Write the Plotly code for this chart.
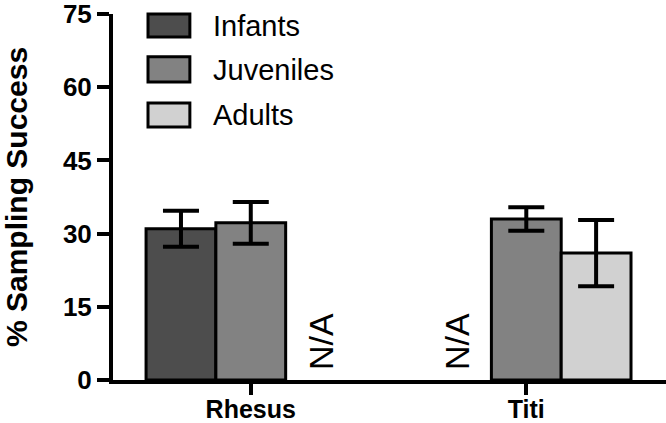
import plotly.graph_objects as go

categories = ["Rhesus", "Titi"]
series_names = ["Infants", "Juveniles", "Adults"]
infants = [31.0, None]
infants_err = [3.7, None]
juveniles = [32.2, 33.0]
juveniles_err = [4.3, 2.4]
adults = [None, 26.0]
adults_err = [None, 6.8]
y_ticks = [0, 15, 30, 45, 60, 75]

values = [infants, juveniles, adults]
errors = [infants_err, juveniles_err, adults_err]
colors = ["#4d4d4d", "#828282", "#d1d1d1"]

FONT = "Liberation Sans, Arial, sans-serif"

fig = go.Figure()
for name, v, e, c in zip(series_names, values, errors, colors):
    fig.add_trace(go.Bar(
        x=list(range(len(categories))), y=v, name=name,
        marker=dict(color=c, line=dict(color="black", width=3)),
        error_y=dict(type="data", array=e, visible=True, color="black",
                     thickness=4, width=18),
        showlegend=False,
    ))

# N/A labels for missing values
ngroups = len(series_names)
bargap = 0.24
slot = (1 - bargap) / ngroups
for si, v in enumerate(values):
    for ci, val in enumerate(v):
        if val is None:
            fig.add_annotation(
                x=ci + (si - (ngroups - 1) / 2) * slot, y=0, xref="x", yref="y",
                text="N/A", textangle=-90, showarrow=False,
                yanchor="bottom", xanchor="center", yshift=8,
                font=dict(family=FONT, size=34, color="black"))

# custom legend
box_y = [(0.937, 1.0), (0.814, 0.883), (0.691, 0.757)]
text_y = [0.967, 0.847, 0.724]
for name, c, (y0, y1), ty in zip(series_names, colors, box_y, text_y):
    fig.add_shape(type="rect", xref="x domain", yref="y domain",
                  x0=0.0633, x1=0.139, y0=y0, y1=y1,
                  fillcolor=c, line=dict(color="black", width=3))
    fig.add_annotation(xref="x domain", yref="y domain", x=0.177, y=ty,
                       text=name, showarrow=False, xanchor="left", yanchor="middle",
                       font=dict(family=FONT, size=29, color="black"))

fig.update_layout(
    width=666, height=423,
    margin=dict(l=113, r=0, t=14, b=43),
    paper_bgcolor="white", plot_bgcolor="white",
    barmode="group", bargap=bargap, bargroupgap=0,
    font=dict(family=FONT, color="black"),
)
fig.update_xaxes(
    tickmode="array", tickvals=list(range(len(categories))), ticktext=categories,
    range=[-0.5, 1.507], showline=True, linecolor="black", linewidth=4,
    ticks="outside", ticklen=11, tickwidth=4, tickcolor="black",
    showgrid=False, zeroline=False, automargin=False,
    ticklabelstandoff=-7,
    tickfont=dict(family=FONT, size=25, color="black", weight="bold"),
)
fig.update_yaxes(
    range=[0, 75], tickmode="array", tickvals=y_ticks,
    showline=True, linecolor="black", linewidth=4,
    ticks="outside", ticklen=12, tickwidth=4, tickcolor="black",
    showgrid=False, zeroline=False, automargin=False,
    ticklabeloverflow="allow",
    tickfont=dict(family=FONT, size=26, color="black", weight="bold"),
    title=dict(text="% Sampling Success", standoff=28,
               font=dict(family=FONT, size=30, color="black", weight="bold")),
)

fig.write_html(
    "out.html",
    config={"displayModeBar": False},
    post_script="document.body.style.margin='0';document.body.style.overflow='hidden';",
)
